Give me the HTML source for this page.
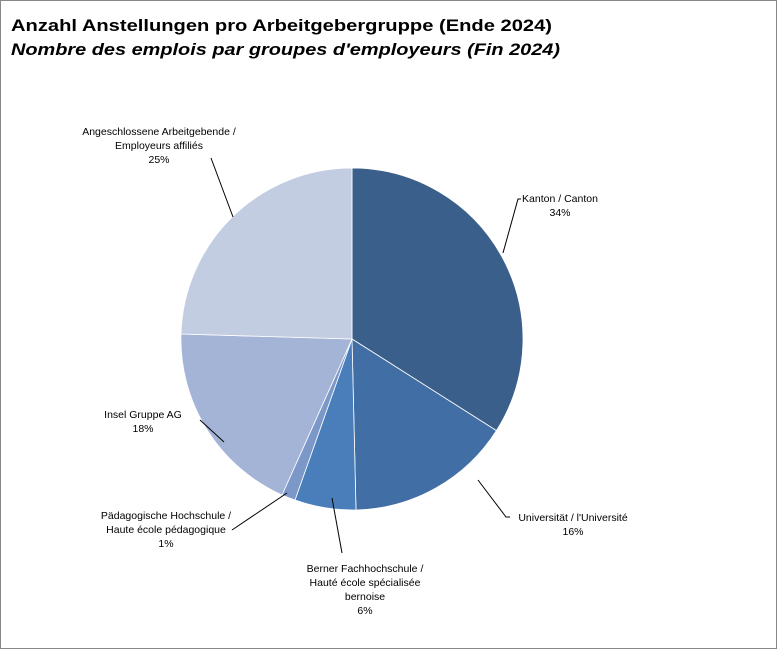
<!DOCTYPE html>
<html><head><meta charset="utf-8"><style>
body{margin:0;background:#fff}
svg text{font-family:"Liberation Sans",sans-serif;fill:#000}
</style></head><body>
<svg width="777" height="649" xmlns="http://www.w3.org/2000/svg">
<rect x="0.5" y="0.5" width="776" height="648" fill="#fff" stroke="#888"/>
<text x="11" y="31" font-size="17" font-weight="bold" textLength="541" lengthAdjust="spacingAndGlyphs">Anzahl Anstellungen  pro Arbeitgebergruppe  (Ende 2024)</text>
<text x="11" y="55" font-size="17" font-weight="bold" font-style="italic" textLength="549" lengthAdjust="spacingAndGlyphs">Nombre des emplois par groupes d'employeurs (Fin 2024)</text>
<g stroke="#fff" stroke-width="0.8">
<path d="M352,339 L352,168 A171,171 0 0 1 496.4,430.6 Z" fill="#3a5f8b"/>
<path d="M352,339 L496.4,430.6 A171,171 0 0 1 356,510 Z" fill="#416ea5"/>
<path d="M352,339 L356,510 A171,171 0 0 1 295,500 Z" fill="#4a7ebb"/>
<path d="M352,339 L295,500 A171,171 0 0 1 282,495 Z" fill="#7b98c9"/>
<path d="M352,339 L282,495 A171,171 0 0 1 181,334 Z" fill="#a3b4d6"/>
<path d="M352,339 L181,334 A171,171 0 0 1 352,168 Z" fill="#c3cde2"/>
</g>
<g stroke="#000" stroke-width="1" fill="none">
<polyline points="503,253 518,199 521,199"/>
<polyline points="478,480 506,517 510,517"/>
<polyline points="332,498 342,553"/>
<polyline points="232,530 287,493"/>
<polyline points="200,420 224,442"/>
<polyline points="211,158 233,217"/>
</g>
<g font-size="10.5" text-anchor="middle">
<text x="560" y="202">Kanton / Canton</text>
<text x="560" y="216">34%</text>
<text x="573" y="521">Universität / l'Université</text>
<text x="573" y="535">16%</text>
<text x="365" y="572">Berner Fachhochschule /</text>
<text x="365" y="586">Hauté école spécialisée</text>
<text x="365" y="600">bernoise</text>
<text x="365" y="614">6%</text>
<text x="166" y="519">Pädagogische Hochschule /</text>
<text x="166" y="533">Haute école pédagogique</text>
<text x="166" y="547">1%</text>
<text x="143" y="418">Insel Gruppe AG</text>
<text x="143" y="432">18%</text>
<text x="159" y="135">Angeschlossene Arbeitgebende /</text>
<text x="159" y="149">Employeurs affiliés</text>
<text x="159" y="163">25%</text>
</g>
</svg>
</body></html>
